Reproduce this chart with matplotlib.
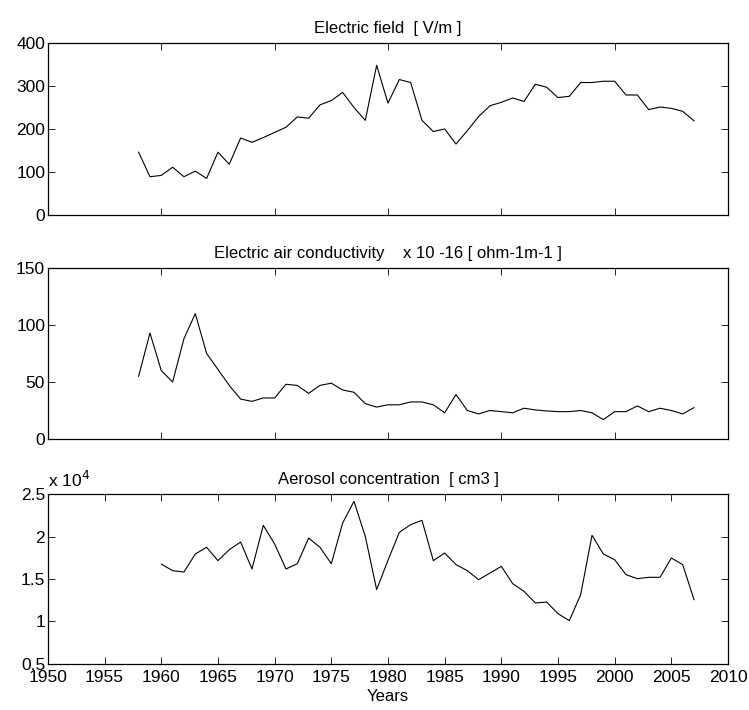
import matplotlib.pyplot as plt
from matplotlib.ticker import FuncFormatter
import numpy as np

plt.rcParams['font.family'] = ['Liberation Sans', 'DejaVu Sans']

# yearly series
years_field = list(range(1958, 2008))
field = [146, 89, 92, 111, 89, 102, 85, 146, 118, 179,
         169, 180, 192, 204, 228, 225, 256, 266, 285, 250,
         220, 348, 260, 315, 308, 220, 194, 200, 165, 196,
         229, 254, 262, 272, 264, 304, 297, 273, 276, 308,
         308, 311, 311, 279, 279, 245, 251, 248, 241, 219]

years_cond = list(range(1958, 2008))
conductivity = [55, 93, 60, 50, 88, 110, 75, 61, 47, 35,
                33, 36, 36, 48, 47, 40, 47, 49, 43, 41,
                31, 28, 30, 30, 32.5, 32.5, 30, 23, 39, 25,
                22, 25, 24, 23, 27, 25.5, 24.6, 24, 24, 25,
                23, 17, 24, 24, 29, 24, 27, 25, 22, 27.5]

years_aer = list(range(1960, 2008))
aerosol = [16760, 15980, 15820, 17940, 18730, 17160, 18450, 19350, 16180, 21310,
           19120, 16180, 16800, 19820, 18730, 16800, 21590, 24140, 20000, 13750,
           17200, 20490, 21400, 21900, 17160, 18060, 16690, 15980, 14920, 15700,
           16490, 14450, 13550, 12180, 12290, 10920, 10100, 13160, 20140, 17940,
           17270, 15510, 15040, 15200, 15200, 17470, 16690, 12570]

titles = ['Electric field  [ V/m ]',
          'Electric air conductivity    x 10 -16 [ ohm-1m-1 ]',
          'Aerosol concentration  [ cm3 ]']

fig = plt.figure(figsize=(7.49, 7.10), dpi=100)
left, width = 0.064, 0.908
ax1 = fig.add_axes([left, 0.6972, width, 0.2423])
ax2 = fig.add_axes([left, 0.3817, width, 0.2408])
ax3 = fig.add_axes([left, 0.0648, width, 0.2394])

ax1.plot(years_field, field, color='black', lw=0.8)
ax2.plot(years_cond, conductivity, color='black', lw=0.8)
ax3.plot(years_aer, np.array(aerosol) / 1e4, color='black', lw=0.8)

ax1.set_ylim(0, 400)
ax1.set_yticks([0, 100, 200, 300, 400])
ax2.set_ylim(0, 150)
ax2.set_yticks([0, 50, 100, 150])
ax3.set_ylim(0.5, 2.5)
ax3.set_yticks([0.5, 1, 1.5, 2, 2.5])
ax3.yaxis.set_major_formatter(FuncFormatter(lambda v, p: '%g' % v))

for ax in (ax1, ax2):
    ax.set_xticks(range(1950, 2011, 10))
    ax.set_xticklabels([])
ax3.set_xticks(range(1950, 2011, 5))

for ax, t in zip((ax1, ax2, ax3), titles):
    ax.set_xlim(1950, 2010)
    ax.set_title(t, fontsize=12, pad=7)
    ax.tick_params(direction='in', top=True, right=True, length=5,
                   width=0.6, labelsize=12.5, pad=2)
    for s in ax.spines.values():
        s.set_linewidth(0.9)

# keep the 0.5 label and 1950 apart a little
ax3.tick_params(axis='x', pad=4)
ax3.text(0.0, 1.025, r'x 10$^4$', transform=ax3.transAxes, fontsize=12.5,
         ha='left', va='bottom')
ax3.set_xlabel('Years', fontsize=12, labelpad=3)

fig.savefig('out.png', dpi=100)
